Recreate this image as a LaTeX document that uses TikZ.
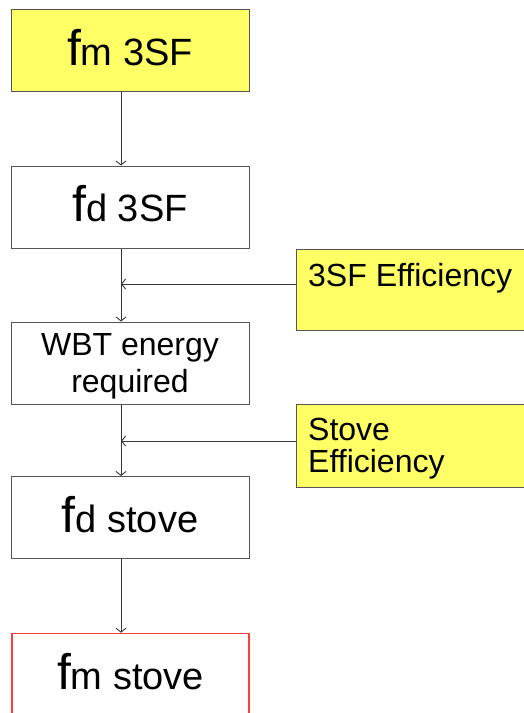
\documentclass[tikz,border=0pt]{standalone}
\usepackage{fontspec}
\setmainfont{Liberation Sans}
\usetikzlibrary{arrows.meta,calc}
\definecolor{boxyellow}{RGB}{255,255,102}
\definecolor{edgegray}{RGB}{85,85,85}
\definecolor{linegray}{RGB}{55,55,55}
\definecolor{boxred}{RGB}{255,60,60}
\newcommand{\bigf}{{\fontsize{50}{50}\selectfont f}}
\tikzset{
  x=1pt, y=-1pt,
  mainbox/.style={draw=edgegray, line width=1pt, rectangle, inner sep=0pt,
    minimum width=238pt, minimum height=82pt,
    font=\fontsize{38}{38}\selectfont, text height=29pt, text depth=0pt},
  wbtbox/.style={draw=edgegray, line width=1pt, rectangle, inner sep=0pt,
    minimum width=238pt, minimum height=82pt, align=center,
    font=\fontsize{32}{37}\selectfont},
  sidebox/.style={draw=edgegray, line width=1pt, fill=boxyellow, rectangle,
    inner sep=0pt, minimum width=300pt, anchor=north west},
  sidetext/.style={font=\fontsize{32}{32}\selectfont, align=left, inner sep=0pt, anchor=base west},
  conn/.style={draw=linegray, line width=0.9pt, -{Straight Barb[length=4pt,width=10pt]}}
}
\begin{document}
\begin{tikzpicture}
\useasboundingbox (0,0) rectangle (524,713);
\clip (0,0) rectangle (524,713);
\fill[white] (0,0) rectangle (524,713);

\node[mainbox, fill=boxyellow] (b1) at (130,50.5) {\bigf m 3SF};
\node[mainbox] (b2) at (130,207) {\bigf d 3SF};
\node[wbtbox] (b3) at (130,363) {};
\node[font=\fontsize{32}{37}\selectfont, align=center, inner sep=0pt] (b3t) at (130,366) {WBT energy\\required};
\node[mainbox] (b4) at (130,517.5) {\bigf d stove};
\node[mainbox, draw=boxred, line width=1.6pt, minimum width=237pt] (b5) at (130.5,674.5) {\bigf m stove};

\node[sidebox, minimum height=81pt] (s1) at (296,249) {};
\node[sidetext] (t1) at (308,286) {3SF Efficiency};
\node[sidebox, minimum height=83pt] (s2) at (296,404) {};
\node[sidetext] (t2) at (308,472) {Stove\\[0pt]Efficiency};

\coordinate (ax) at (121,0);
\coordinate (j1) at (121,284);
\coordinate (j2) at (121,441);

\draw[conn] (b1.south -| ax) -- (b2.north -| ax);
\draw[conn] (b2.south -| ax) -- (b3.north -| ax);
\draw[conn] (b3.south -| ax) -- (b4.north -| ax);
\draw[conn] (b4.south -| ax) -- (b5.north -| ax);
\draw[conn] (s1.west |- j1) -- (j1);
\draw[conn] (s2.west |- j2) -- (j2);
\end{tikzpicture}
\end{document}
